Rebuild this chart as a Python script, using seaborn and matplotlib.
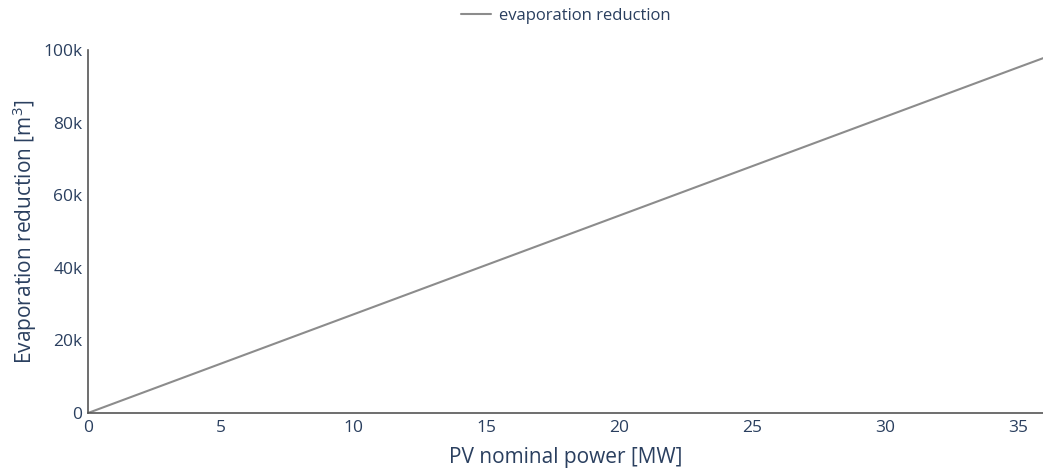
import matplotlib
matplotlib.use("Agg")
import matplotlib.pyplot as plt
import seaborn as sns
import pandas as pd
from matplotlib.ticker import FuncFormatter, MultipleLocator

# Data
pv_power_mw = [0, 5, 10, 15, 20, 25, 30, 35, 36]
evap_reduction_m3 = [0, 13600, 27200, 40800, 54400, 68000, 81600, 95200, 97900]
series_name = "evaporation reduction"

df = pd.DataFrame({"pv": pv_power_mw, "evap": evap_reduction_m3, "series": series_name})

sns.set_style("white")
plt.rcParams["font.family"] = ["Open Sans", "DejaVu Sans"]
plt.rcParams["mathtext.fontset"] = "custom"
plt.rcParams["mathtext.rm"] = "Open Sans"
plt.rcParams["mathtext.it"] = "Open Sans"

txt = "#2a3f5f"
fig = plt.figure(figsize=(10.43, 4.72), dpi=100)
ax = fig.add_axes([88 / 1043, 1 - 413 / 472, 1 - 88 / 1043, (413 - 50) / 472])

sns.lineplot(data=df, x="pv", y="evap", hue="series", palette=["#8c8c8c"],
             linewidth=1.5, ax=ax, legend=True)

ax.set_xlim(0, 35.94)
ax.set_ylim(0, 100000)
ax.xaxis.set_major_locator(MultipleLocator(5))
ax.yaxis.set_major_locator(MultipleLocator(20000))
ax.yaxis.set_major_formatter(FuncFormatter(lambda v, p: "0" if v == 0 else f"{int(v/1000)}k"))

for s in ["top", "right"]:
    ax.spines[s].set_visible(False)
for s in ["left", "bottom"]:
    ax.spines[s].set_color("#555555")
    ax.spines[s].set_linewidth(1.2)

ax.tick_params(axis="both", length=0, labelsize=12.5, labelcolor=txt)
ax.tick_params(axis="x", pad=5)
ax.tick_params(axis="y", pad=4)

ax.set_xlabel("PV nominal power [MW]", fontsize=15, color=txt, labelpad=8)
ax.set_ylabel("Evaporation reduction [m$^3$]", fontsize=15, color=txt, labelpad=3)

leg = ax.legend(loc="center", bbox_to_anchor=(0.5, 1 + (50 - 16) / 363), frameon=False,
                fontsize=12, handlelength=1.8, handletextpad=0.5, borderaxespad=0)
for t in leg.get_texts():
    t.set_color(txt)

fig.savefig("out.png", dpi=100, facecolor="white")
